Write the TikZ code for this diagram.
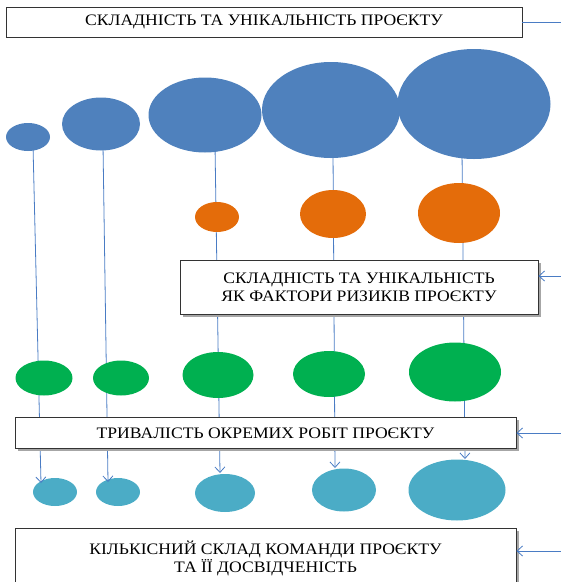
\documentclass[tikz,border=0pt]{standalone}
\usepackage{fontspec}
\setmainfont{Liberation Serif}[FakeStretch=1.1]
\usetikzlibrary{shapes.geometric,arrows.meta,shadows}

\definecolor{blueblob}{HTML}{4F81BD}
\definecolor{orangeblob}{HTML}{E46C0A}
\definecolor{greenblob}{HTML}{00B050}
\definecolor{tealblob}{HTML}{4BACC6}
\definecolor{linkblue}{HTML}{4A7CC4}

\tikzset{
  blob/.style={ellipse, inner sep=0pt, draw=none},
  link/.style={draw=linkblue, line width=0.8pt},
  linkarrow/.style={link, -{Straight Barb[length=5.5pt, width=10pt, line width=0.8pt]}},
  labelbox/.style={draw=black!80, line width=0.9pt, fill=white, align=center,
    inner sep=0pt, font=\fontsize{16}{18}\selectfont},
  shadowed/.style={drop shadow={shadow xshift=2.5pt, shadow yshift=-2.5pt,
    fill=black!35, opacity=1}}
}

\begin{document}
\begin{tikzpicture}[x=1pt, y=-1pt]
\clip (0,0) rectangle (561,582);

% lowest row: team-related blobs
\node[blob, fill=tealblob, minimum width=44, minimum height=28] (t1) at (55,492) {};
\node[blob, fill=tealblob, minimum width=44, minimum height=28] (t2) at (118,492) {};
\node[blob, fill=tealblob, minimum width=60, minimum height=38] (t3) at (225,493) {};
\node[blob, fill=tealblob, minimum width=64, minimum height=43] (t4) at (344,490) {};
\node[blob, fill=tealblob, minimum width=97, minimum height=61] (t5) at (457,490) {};

% vertical links, drawn beneath the upper blobs and boxes
\coordinate (s1) at (33,145);  \coordinate (e1) at (41,483);
\coordinate (s2) at (103,145); \coordinate (e2) at (108,482);
\coordinate (s3) at (215,145); \coordinate (e3) at (220,473);
\coordinate (s4) at (333,150); \coordinate (e4) at (335,468);
\coordinate (s5) at (462,150); \coordinate (e5) at (465,459);
\draw[linkarrow] (s1) -- (e1);
\draw[linkarrow] (s2) -- (e2);
\draw[linkarrow] (s3) -- (e3);
\draw[linkarrow] (s4) -- (e4);
\draw[linkarrow] (s5) -- (e5);

% top row: complexity
\node[blob, fill=blueblob, minimum width=44, minimum height=28] (b1) at (28,137) {};
\node[blob, fill=blueblob, minimum width=78, minimum height=53] (b2) at (101,124) {};
\node[blob, fill=blueblob, minimum width=113, minimum height=75] (b3) at (205,115) {};
\node[blob, fill=blueblob, minimum width=138, minimum height=96] (b4) at (331,110) {};
\node[blob, fill=blueblob, minimum width=153, minimum height=110] (b5) at (474,104) {};

% risk factors
\node[blob, fill=orangeblob, minimum width=44, minimum height=30] (o1) at (217,217) {};
\node[blob, fill=orangeblob, minimum width=66, minimum height=48] (o2) at (333,214) {};
\node[blob, fill=orangeblob, minimum width=82, minimum height=60] (o3) at (459,213) {};

% durations
\node[blob, fill=greenblob, minimum width=57, minimum height=35] (g1) at (44,378) {};
\node[blob, fill=greenblob, minimum width=56, minimum height=35] (g2) at (121,378) {};
\node[blob, fill=greenblob, minimum width=71, minimum height=46] (g3) at (218,375) {};
\node[blob, fill=greenblob, minimum width=72, minimum height=46] (g4) at (329,374) {};
\node[blob, fill=greenblob, minimum width=92, minimum height=59] (g5) at (455,372) {};

% captions
\node[labelbox, minimum width=516, minimum height=30] (top) at (264,22)
  {СКЛАДНІСТЬ ТА УНІКАЛЬНІСТЬ ПРОЄКТУ};
\node[labelbox, shadowed, minimum width=358, minimum height=54] (risk) at (359,287)
  {СКЛАДНІСТЬ ТА УНІКАЛЬНІСТЬ\\ЯК ФАКТОРИ РИЗИКІВ ПРОЄКТУ};
\node[labelbox, shadowed, minimum width=501, minimum height=31] (dur) at (265.5,433)
  {ТРИВАЛІСТЬ ОКРЕМИХ РОБІТ ПРОЄКТУ};
\node[labelbox, shadowed, minimum width=501, minimum height=60] (team) at (265.5,558)
  {КІЛЬКІСНИЙ СКЛАД КОМАНДИ ПРОЄКТУ\\ТА ЇЇ ДОСВІДЧЕНІСТЬ};

% links entering from the right
\coordinate (r1) at (561,22);
\coordinate (r2) at (561,276);
\coordinate (r3) at (561,433);
\coordinate (r4) at (561,551);
\draw[link] (r1) -- (top.east);
\draw[linkarrow] (r2) -- (risk.east |- r2);
\draw[linkarrow] (r3) -- (dur.east);
\draw[linkarrow] (r4) -- (team.east |- r4);
\end{tikzpicture}
\end{document}
